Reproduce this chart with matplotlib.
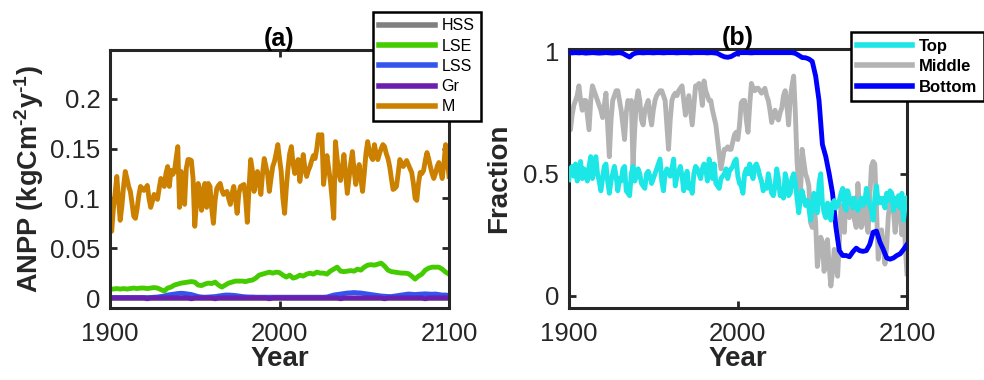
import numpy as np
import matplotlib
matplotlib.use("Agg")
import matplotlib.pyplot as plt

matplotlib.rcParams.update({'font.family': 'Liberation Sans',
                            'mathtext.fontset': 'custom',
                            'mathtext.rm': 'Liberation Sans:bold',
                            'mathtext.bf': 'Liberation Sans:bold',
                            'mathtext.it': 'Liberation Sans:bold'})

# annees : series annuelles et series a pas de 2 ans
annees = np.arange(1900, 2101)
annees2 = np.arange(1900, 2101, 2)

# (a) ANPP par type de vegetation (kgC m-2 y-1)
anpp_M = [
    0.083, 0.067, 0.090, 0.105, 0.122, 0.100, 0.078, 0.092, 0.112, 0.127,
    0.120, 0.112, 0.107, 0.095, 0.082, 0.080, 0.090, 0.103, 0.112, 0.110,
    0.108, 0.110, 0.113, 0.100, 0.091, 0.097, 0.104, 0.102, 0.099, 0.110,
    0.120, 0.116, 0.112, 0.125, 0.132, 0.112, 0.128, 0.124, 0.127, 0.140,
    0.152, 0.091, 0.127, 0.110, 0.094, 0.130, 0.139, 0.139, 0.138, 0.120,
    0.072, 0.095, 0.115, 0.100, 0.088, 0.110, 0.115, 0.091, 0.115, 0.112,
    0.090, 0.075, 0.098, 0.110, 0.113, 0.115, 0.108, 0.104, 0.106, 0.107,
    0.100, 0.094, 0.105, 0.112, 0.100, 0.085, 0.105, 0.112, 0.113, 0.114,
    0.100, 0.076, 0.110, 0.139, 0.128, 0.107, 0.118, 0.127, 0.115, 0.104,
    0.125, 0.140, 0.132, 0.124, 0.107, 0.120, 0.132, 0.137, 0.145, 0.154,
    0.140, 0.127, 0.100, 0.085, 0.110, 0.130, 0.145, 0.152, 0.135, 0.125,
    0.135, 0.139, 0.117, 0.130, 0.144, 0.130, 0.122, 0.128, 0.132, 0.138,
    0.143, 0.140, 0.150, 0.164, 0.163, 0.164, 0.114, 0.130, 0.143, 0.130,
    0.118, 0.100, 0.080, 0.157, 0.140, 0.125, 0.118, 0.130, 0.144, 0.125,
    0.105, 0.120, 0.135, 0.147, 0.128, 0.114, 0.125, 0.134, 0.120, 0.107,
    0.125, 0.145, 0.157, 0.148, 0.142, 0.139, 0.154, 0.145, 0.139, 0.145,
    0.150, 0.154, 0.152, 0.145, 0.140, 0.132, 0.120, 0.109, 0.110, 0.112,
    0.125, 0.139, 0.135, 0.132, 0.135, 0.138, 0.134, 0.130, 0.126, 0.115,
    0.100, 0.098, 0.115, 0.126, 0.125, 0.128, 0.138, 0.146, 0.140, 0.132,
    0.125, 0.120, 0.125, 0.132, 0.136, 0.128, 0.120, 0.135, 0.154, 0.140,
    0.122,
]
anpp_LSE = [
    0.009, 0.009, 0.0095, 0.009, 0.0095, 0.009, 0.0095, 0.010, 0.0095, 0.010,
    0.010, 0.0095, 0.010, 0.0105, 0.010, 0.0085, 0.007, 0.010, 0.011, 0.013,
    0.014, 0.015, 0.0155, 0.016, 0.0165, 0.016, 0.013, 0.0125, 0.014, 0.015,
    0.0145, 0.016, 0.013, 0.011, 0.013, 0.015, 0.016, 0.017, 0.017, 0.017,
    0.0165, 0.0175, 0.018, 0.020, 0.023, 0.024, 0.025, 0.026, 0.025, 0.026,
    0.0255, 0.023, 0.021, 0.023, 0.020, 0.021, 0.023, 0.022, 0.024, 0.025,
    0.024, 0.026, 0.025, 0.025, 0.024, 0.027, 0.029, 0.031, 0.027, 0.0265,
    0.027, 0.0275, 0.027, 0.029, 0.028, 0.031, 0.033, 0.0335, 0.033, 0.034,
    0.035, 0.032, 0.028, 0.0265, 0.026, 0.0255, 0.025, 0.025, 0.0245, 0.022,
    0.019, 0.022, 0.024, 0.028, 0.030, 0.031, 0.031, 0.031, 0.029, 0.026,
    0.024,
]
anpp_LSS = [
    0.0005, 0.0005, 0.0005, 0.0005, 0.0005, 0.0005, 0.0005, 0.0005, 0.0005, 0.0005,
    0.0005, 0.0005, 0.0005, 0.0008, 0.001, 0.0015, 0.002, 0.003, 0.0035, 0.004,
    0.0045, 0.0048, 0.0045, 0.004, 0.0035, 0.0025, 0.0015, 0.001, 0.0008, 0.001,
    0.0012, 0.0015, 0.002, 0.0025, 0.003, 0.003, 0.0028, 0.0025, 0.002, 0.0015,
    0.0012, 0.001, 0.001, 0.0008, 0.0008, 0.0008, 0.0008, 0.0008, 0.0008, 0.0008,
    0.0008, 0.0008, 0.0008, 0.0008, 0.0008, 0.0008, 0.0008, 0.0008, 0.0008, 0.0008,
    0.0008, 0.0008, 0.0008, 0.0008, 0.001, 0.002, 0.003, 0.0035, 0.004, 0.0045,
    0.005, 0.0052, 0.0055, 0.0052, 0.005, 0.0045, 0.004, 0.0035, 0.003, 0.0025,
    0.002, 0.0018, 0.0015, 0.0015, 0.002, 0.0025, 0.003, 0.0035, 0.004, 0.0038,
    0.0035, 0.0038, 0.004, 0.0042, 0.004, 0.0038, 0.004, 0.0035, 0.003, 0.003,
    0.0025,
]
anpp_Gr = [
    0.0002, 0.0002, 0.0002, 0.0002, 0.0002, 0.0002, 0.0002, 0.0002, 0.0002, 0.0002,
    0.0002, -0.0008, 0.0002, 0.0002, 0.0002, 0.0002, 0.0002, 0.0002, 0.0002, 0.0002,
    0.0002, 0.0002, 0.0002, 0.0002, -0.0008, 0.0002, 0.0002, 0.0002, 0.0002, 0.0002,
    0.0002, -0.0008, 0.0002, 0.0002, 0.0002, 0.0002, 0.0002, 0.0002, 0.0002, 0.0002,
    0.0002, 0.0002, 0.0002, 0.0002, 0.0002, 0.0002, 0.0002, -0.0008, 0.0002, 0.0002,
    0.0002, 0.0002, 0.0002, 0.0002, 0.0002, 0.0002, 0.0002, 0.0002, 0.0002, 0.0002,
    0.0002, 0.0002, 0.0002, 0.0002, 0.0002, 0.0002, 0.0002, 0.0002, -0.0008, 0.0002,
    0.0002, 0.0002, 0.0002, 0.0002, 0.0002, 0.0002, 0.0002, 0.0002, 0.0002, 0.0002,
    0.0002, -0.0008, 0.0002, 0.0002, 0.0002, 0.0002, 0.0002, 0.0002, 0.0002, 0.0002,
    0.0002, 0.0002, 0.0002, -0.0008, 0.0002, 0.0002, 0.0002, 0.0002, 0.0002, 0.0002,
    0.0002,
]
anpp_HSS = [
    0.0, 0.0, 0.0, 0.0, 0.0, 0.0, 0.0, 0.0, 0.0, 0.0,
    0.0, 0.0, 0.0, 0.0, 0.0, 0.0, 0.0, 0.0, 0.0, 0.0,
    0.0, 0.0, 0.0, 0.0, 0.0, 0.0, 0.0, 0.0, 0.0, 0.0,
    0.0, 0.0, 0.0, 0.0, 0.0, 0.0, 0.0, 0.0, 0.0, 0.0,
    0.0, 0.0, 0.0, 0.0, 0.0, 0.0, 0.0, 0.0, 0.0, 0.0,
    0.0, 0.0, 0.0, 0.0, 0.0, 0.0, 0.0, 0.0, 0.0, 0.0,
    0.0, 0.0, 0.0, 0.0, 0.0, 0.0, 0.0, 0.0, 0.0, 0.0,
    0.0, 0.0, 0.0, 0.0, 0.0, 0.0, 0.0, 0.0, 0.0, 0.0,
    0.0, 0.0, 0.0, 0.0, 0.0, 0.0, 0.0, 0.0, 0.0, 0.0,
    0.0, 0.0, 0.0, 0.0, 0.0, 0.0, 0.0, 0.0, 0.0, 0.0,
    0.0,
]

# (b) fraction par strate
frac_top = [
    0.475, 0.52, 0.53, 0.49, 0.54, 0.47, 0.50, 0.55, 0.48, 0.52,
    0.50, 0.47, 0.53, 0.57, 0.48, 0.52, 0.57, 0.50, 0.47, 0.43,
    0.48, 0.53, 0.54, 0.47, 0.42, 0.47, 0.50, 0.53, 0.49, 0.43,
    0.48, 0.47, 0.52, 0.53, 0.43, 0.42, 0.41, 0.50, 0.53, 0.47,
    0.49, 0.52, 0.50, 0.46, 0.45, 0.44, 0.50, 0.51, 0.49, 0.46,
    0.48, 0.50, 0.52, 0.54, 0.56, 0.47, 0.43, 0.50, 0.52, 0.51,
    0.49, 0.52, 0.56, 0.45, 0.49, 0.51, 0.53, 0.49, 0.43, 0.48,
    0.51, 0.44, 0.46, 0.42, 0.50, 0.53, 0.52, 0.50, 0.48, 0.52,
    0.54, 0.52, 0.47, 0.56, 0.53, 0.48, 0.54, 0.46, 0.45, 0.44,
    0.48, 0.49, 0.50, 0.52, 0.48, 0.51, 0.52, 0.53, 0.55, 0.56,
    0.49, 0.46, 0.45, 0.42, 0.50, 0.52, 0.50, 0.54, 0.50, 0.48,
    0.53, 0.54, 0.52, 0.49, 0.47, 0.43, 0.45, 0.44, 0.50, 0.46,
    0.42, 0.41, 0.45, 0.52, 0.48, 0.41, 0.42, 0.40, 0.50, 0.47,
    0.41, 0.42, 0.48, 0.50, 0.46, 0.40, 0.34, 0.40, 0.43, 0.40,
    0.37, 0.39, 0.36, 0.31, 0.38, 0.42, 0.36, 0.34, 0.46, 0.50,
    0.38, 0.34, 0.32, 0.38, 0.35, 0.31, 0.38, 0.39, 0.36, 0.37,
    0.39, 0.42, 0.44, 0.37, 0.35, 0.43, 0.40, 0.38, 0.36, 0.40,
    0.37, 0.35, 0.38, 0.40, 0.37, 0.38, 0.44, 0.40, 0.37, 0.35,
    0.31, 0.40, 0.45, 0.38, 0.40, 0.38, 0.40, 0.36, 0.42, 0.39,
    0.43, 0.42, 0.35, 0.40, 0.37, 0.41, 0.36, 0.42, 0.31, 0.38,
    0.40,
]
frac_middle = [
    0.73, 0.68, 0.74, 0.78, 0.80, 0.82, 0.86, 0.80, 0.76, 0.80,
    0.80, 0.74, 0.68, 0.80, 0.86, 0.84, 0.82, 0.80, 0.78, 0.76,
    0.73, 0.78, 0.83, 0.70, 0.57, 0.72, 0.80, 0.82, 0.84, 0.84,
    0.80, 0.76, 0.70, 0.64, 0.75, 0.80, 0.78, 0.80, 0.53, 0.68,
    0.80, 0.84, 0.80, 0.72, 0.70, 0.76, 0.78, 0.80, 0.74, 0.70,
    0.76, 0.80, 0.82, 0.83, 0.84, 0.84, 0.82, 0.80, 0.70, 0.60,
    0.72, 0.80, 0.82, 0.83, 0.82, 0.84, 0.85, 0.86, 0.80, 0.74,
    0.78, 0.82, 0.76, 0.70, 0.78, 0.86, 0.86, 0.87, 0.84, 0.78,
    0.88, 0.84, 0.82, 0.80, 0.80, 0.76, 0.73, 0.70, 0.64, 0.58,
    0.52, 0.56, 0.60, 0.60, 0.61, 0.60, 0.60, 0.63, 0.66, 0.67,
    0.64, 0.70, 0.79, 0.80, 0.80, 0.72, 0.67, 0.78, 0.87, 0.85,
    0.84, 0.85, 0.85, 0.84, 0.83, 0.84, 0.85, 0.82, 0.80, 0.76,
    0.71, 0.74, 0.76, 0.73, 0.72, 0.75, 0.77, 0.82, 0.84, 0.78,
    0.70, 0.81, 0.86, 0.90, 0.75, 0.55, 0.45, 0.41, 0.60, 0.55,
    0.50, 0.48, 0.45, 0.30, 0.28, 0.38, 0.30, 0.12, 0.18, 0.24,
    0.22, 0.10, 0.18, 0.23, 0.12, 0.04, 0.10, 0.19, 0.14, 0.08,
    0.22, 0.37, 0.30, 0.26, 0.43, 0.36, 0.32, 0.38, 0.40, 0.31,
    0.28, 0.46, 0.35, 0.28, 0.32, 0.37, 0.30, 0.26, 0.40, 0.53,
    0.55, 0.54, 0.36, 0.15, 0.22, 0.27, 0.20, 0.13, 0.20, 0.33,
    0.38, 0.42, 0.35, 0.26, 0.33, 0.40, 0.34, 0.25, 0.40, 0.20,
    0.09,
]
frac_bottom = [
    0.996, 0.995, 0.996, 0.995, 0.996, 0.994, 0.995, 0.996, 0.995, 0.994,
    0.995, 0.996, 0.995, 0.994, 0.995, 0.996, 0.993, 0.985, 0.978, 0.990,
    0.995, 0.996, 0.995, 0.996, 0.996, 0.995, 0.996, 0.996, 0.995, 0.996,
    0.996, 0.996, 0.995, 0.996, 0.996, 0.996, 0.995, 0.996, 0.996, 0.996,
    0.996, 0.995, 0.996, 0.995, 0.993, 0.985, 0.979, 0.977, 0.980, 0.988,
    0.995, 0.996, 0.996, 0.996, 0.995, 0.996, 0.996, 0.996, 0.996, 0.996,
    0.996, 0.996, 0.996, 0.996, 0.996, 0.996, 0.996, 0.993, 0.985, 0.976,
    0.975, 0.970, 0.960, 0.900, 0.800, 0.620, 0.570, 0.500, 0.420, 0.280,
    0.185, 0.165, 0.165, 0.160, 0.180, 0.195, 0.185, 0.182, 0.185, 0.210,
    0.260, 0.265, 0.220, 0.190, 0.155, 0.150, 0.155, 0.165, 0.172, 0.190,
    0.210,
]

txt = '#262626'


def style_axes(ax):
    ax.set_xlim(1900, 2100)
    ax.set_xticks([1900, 2000, 2100])
    ax.tick_params(direction='in', length=5, width=2, top=True, right=True,
                   labelsize=18.5, colors=txt, pad=7)
    ax.tick_params(axis='x', pad=10)
    for s in ax.spines.values():
        s.set_linewidth(2.2)
        s.set_color(txt)
    ax.set_xlabel('Year', fontsize=20, fontweight='bold', color=txt, labelpad=0)


fig = plt.figure(figsize=(9.84, 3.8), dpi=100)

# --- (a) ---
ax1 = fig.add_axes([0.1118, 0.1895, 0.3445, 0.679])
ax1.plot(annees2, anpp_HSS, color='#808080', lw=3.5, label='HSS')
ax1.plot(annees2, anpp_LSE, color='#44CC00', lw=3.5, label='LSE')
ax1.plot(annees2, anpp_LSS, color='#3355EE', lw=3.5, label='LSS')
ax1.plot(annees2, anpp_Gr, color='#6A1FB0', lw=3.5, label='Gr')
ax1.plot(annees, anpp_M, color='#CC8000', lw=3.5, label='M')
ax1.set_ylim(-0.01, 0.249)
ax1.set_yticks([0, 0.05, 0.1, 0.15, 0.2])
ax1.set_yticklabels(['0', '0.05', '0.1', '0.15', '0.2'])
style_axes(ax1)
ax1.set_ylabel('ANPP (kgCm$^{\\text{-2}}$y$^{\\text{-1}}$)', fontsize=19.5,
               fontweight='bold', color=txt, labelpad=3)
ax1.set_title('(a)', fontsize=18, fontweight='bold', pad=3)
leg1 = ax1.legend(loc='upper right', bbox_to_anchor=(481 / 984, 1 - 12 / 380),
                  bbox_transform=fig.transFigure, fontsize=11.5, handlelength=3.5,
                  labelspacing=0.33, borderpad=0.4, handletextpad=0.4,
                  fancybox=False, framealpha=1, edgecolor='black', borderaxespad=0)
leg1.get_frame().set_linewidth(1.8)
for h in leg1.get_lines():
    h.set_linewidth(4)

# --- (b) ---
ax2 = fig.add_axes([0.578, 0.1895, 0.3437, 0.6816])
l_mid, = ax2.plot(annees, frac_middle, color='#B3B3B3', lw=3.5, label='Middle', zorder=2)
l_bot, = ax2.plot(annees2, frac_bottom, color='#0000FF', lw=3.5, label='Bottom', zorder=3)
l_top, = ax2.plot(annees, frac_top, color='#1CE6E6', lw=3.5, label='Top', zorder=4)
ax2.set_ylim(-0.05, 1.011)
ax2.set_yticks([0, 0.5, 1])
ax2.set_yticklabels(['0', '0.5', '1'])
style_axes(ax2)
ax2.set_ylabel('Fraction', fontsize=20, fontweight='bold', color=txt, labelpad=8)
ax2.set_title('(b)', fontsize=18, fontweight='bold', pad=3)
leg2 = ax2.legend(handles=[l_top, l_mid, l_bot], loc='upper right',
                  bbox_to_anchor=(984 / 984, 1 - 32 / 380),
                  bbox_transform=fig.transFigure,
                  prop={'size': 12, 'weight': 'bold'}, handlelength=3.3,
                  labelspacing=0.33, borderpad=0.4, handletextpad=0.4,
                  fancybox=False, framealpha=1, edgecolor='black', borderaxespad=0)
leg2.get_frame().set_linewidth(1.8)
leg2.set_zorder(10)
for h in leg2.get_lines():
    h.set_linewidth(4)

fig.savefig('out.png', dpi=100)
